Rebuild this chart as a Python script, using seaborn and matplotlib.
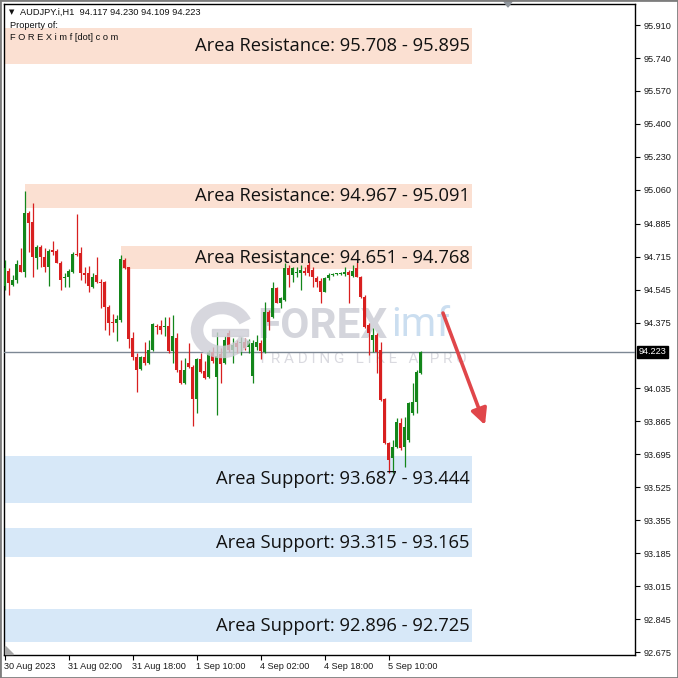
import numpy as np
import pandas as pd
import matplotlib
matplotlib.use("Agg")
import matplotlib.pyplot as plt
import seaborn as sns
from matplotlib.patches import Rectangle, Arc, Polygon

# ---------------- data ----------------
opens = [94.561, 94.643, 94.569, 94.595, 94.672, 94.638, 94.942, 94.896, 94.707, 94.767,
         94.712, 94.664, 94.750, 94.746, 94.681, 94.604, 94.609, 94.638, 94.729, 94.736,
         94.633, 94.629, 94.557, 94.621, 94.586, 94.586, 94.457, 94.380, 94.371, 94.389,
         94.698, 94.660, 94.294, 94.199, 94.134, 94.199, 94.165, 94.234, 94.358, 94.359,
         94.354, 94.359, 94.230, 94.294, 94.131, 94.062, 94.165, 94.148, 93.979, 94.187,
         94.127, 94.093, 94.225, 94.096, 94.213, 94.165, 94.323, 94.233, 94.268, 94.268,
         94.273, 94.251, 94.100, 94.251, 94.271, 94.225, 94.431, 94.405, 94.552, 94.478,
         94.491, 94.655, 94.620, 94.629, 94.629, 94.643, 94.672, 94.646, 94.603, 94.591,
         94.534, 94.603, 94.622, 94.624, 94.626, 94.624, 94.638, 94.615, 94.655, 94.612,
         94.509, 94.362, 94.285, 94.310, 94.233, 93.979, 93.755, 93.674, 93.735, 93.855,
         93.735, 93.769, 93.907, 93.967, 94.117]
highs = [94.698, 94.655, 94.621, 94.698, 94.758, 95.056, 94.948, 94.994, 94.776, 94.776,
         94.758, 94.753, 94.798, 94.755, 94.690, 94.629, 94.650, 94.741, 94.936, 94.767,
         94.660, 94.667, 94.633, 94.715, 94.599, 94.590, 94.466, 94.420, 94.414, 94.724,
         94.707, 94.664, 94.328, 94.220, 94.203, 94.277, 94.285, 94.375, 94.368, 94.389,
         94.402, 94.406, 94.414, 94.320, 94.182, 94.191, 94.268, 94.157, 94.191, 94.217,
         94.174, 94.234, 94.251, 94.328, 94.242, 94.303, 94.337, 94.294, 94.285, 94.302,
         94.294, 94.288, 94.285, 94.311, 94.285, 94.483, 94.440, 94.586, 94.560, 94.509,
         94.681, 94.672, 94.663, 94.663, 94.672, 94.663, 94.694, 94.663, 94.615, 94.603,
         94.608, 94.629, 94.629, 94.629, 94.634, 94.663, 94.646, 94.672, 94.689, 94.615,
         94.517, 94.371, 94.345, 94.320, 94.276, 93.984, 93.760, 93.769, 93.881, 93.881,
         93.889, 93.967, 94.061, 94.130, 94.230]
lows = [94.543, 94.518, 94.561, 94.578, 94.638, 94.612, 94.741, 94.612, 94.650, 94.664,
        94.638, 94.564, 94.724, 94.681, 94.543, 94.557, 94.557, 94.629, 94.720, 94.595,
        94.578, 94.535, 94.552, 94.578, 94.449, 94.337, 94.311, 94.328, 94.282, 94.380,
        94.650, 94.242, 94.182, 94.019, 94.131, 94.157, 94.162, 94.230, 94.316, 94.316,
        94.306, 94.217, 94.165, 94.122, 94.058, 94.058, 94.139, 93.842, 93.907, 94.117,
        94.084, 94.088, 94.165, 93.898, 94.062, 94.162, 94.225, 94.165, 94.216, 94.208,
        94.233, 94.216, 94.061, 94.233, 94.185, 94.220, 94.337, 94.397, 94.474, 94.448,
        94.488, 94.560, 94.586, 94.612, 94.543, 94.620, 94.615, 94.560, 94.560, 94.474,
        94.531, 94.595, 94.615, 94.618, 94.620, 94.615, 94.474, 94.612, 94.612, 94.500,
        94.345, 94.208, 94.225, 94.113, 93.972, 93.748, 93.597, 93.597, 93.726, 93.717,
        93.631, 93.760, 93.898, 93.907, 94.109]
closes = [94.655, 94.578, 94.595, 94.678, 94.638, 94.942, 94.891, 94.712, 94.767, 94.712,
          94.664, 94.746, 94.741, 94.684, 94.595, 94.612, 94.643, 94.729, 94.722, 94.629,
          94.621, 94.561, 94.612, 94.586, 94.581, 94.454, 94.371, 94.371, 94.392, 94.703,
          94.655, 94.289, 94.199, 94.131, 94.199, 94.165, 94.234, 94.368, 94.354, 94.334,
          94.359, 94.230, 94.303, 94.131, 94.062, 94.131, 94.144, 93.979, 94.187, 94.122,
          94.088, 94.225, 94.174, 94.203, 94.162, 94.285, 94.234, 94.259, 94.251, 94.276,
          94.242, 94.282, 94.268, 94.276, 94.228, 94.431, 94.380, 94.552, 94.478, 94.500,
          94.655, 94.620, 94.655, 94.638, 94.646, 94.629, 94.629, 94.608, 94.586, 94.534,
          94.603, 94.620, 94.626, 94.626, 94.629, 94.638, 94.620, 94.643, 94.612, 94.509,
          94.354, 94.319, 94.310, 94.225, 93.975, 93.752, 93.666, 93.735, 93.864, 93.726,
          93.838, 93.958, 93.967, 94.122, 94.223]

price_ticks = [95.910, 95.740, 95.570, 95.400, 95.230, 95.060, 94.885, 94.715, 94.545,
               94.375, 94.035, 93.865, 93.695, 93.525, 93.355, 93.185, 93.015, 92.845, 92.675]
time_labels = ["30 Aug 2023", "31 Aug 02:00", "31 Aug 18:00", "1 Sep 10:00",
               "4 Sep 02:00", "4 Sep 18:00", "5 Sep 10:00"]
time_label_bars = [0, 16, 32, 48, 64, 80, 96]

resistance_low = [95.708, 94.967, 94.651]
resistance_high = [95.895, 95.091, 94.768]
support_high = [93.687, 93.315, 92.896]
support_low = [93.444, 93.165, 92.725]
last_price = 94.223
header = "AUDJPY.i,H1  94.117 94.230 94.109 94.223"

# ---------------- style ----------------
sns.set_theme(style="white")
plt.rcParams['font.family'] = ['Liberation Sans', 'DejaVu Sans']

W = H = 678
fig = plt.figure(figsize=(6.78, 6.78), dpi=100, facecolor="white")
fx = lambda x: x / W
fy = lambda y: 1 - y / H

ax_left, ax_right, ax_top, ax_bottom = 4, 635, 4, 655
ax = fig.add_axes([fx(ax_left), fy(ax_bottom), (ax_right - ax_left) / W, (ax_bottom - ax_top) / H])
ax.set_facecolor("white")

df = pd.DataFrame({"open": opens, "high": highs, "low": lows, "close": closes})
df["bar"] = np.arange(len(df))
df["up"] = df["close"] >= df["open"]

x0_px, bar_px = 4.5, 4.0
px_per_unit = 193.8
ax.set_xlim((ax_left - x0_px) / bar_px, (ax_right - x0_px) / bar_px)
ax.set_ylim(92.675 - (ax_bottom - 652) / px_per_unit, 92.675 + (652 - ax_top) / px_per_unit)

# zones
res_color = "#fbe0d2"
sup_color = "#d7e8f8"
zone_end = (472 - x0_px) / bar_px
res_start = [-2, 5.1, 29.1]
for s, lo, hi in zip(res_start, resistance_low, resistance_high):
    ax.add_patch(Rectangle((s, lo), zone_end - s, hi - lo, facecolor=res_color, edgecolor="none", zorder=1))
    ax.text(zone_end - 0.6, (lo + hi) / 2, f"Area Resistance: {lo:.3f} - {hi:.3f}",
            ha="right", va="center", fontsize=13.25, family=["Open Sans", "DejaVu Sans"],
            color="#111111", zorder=6)
for hi, lo in zip(support_high, support_low):
    ax.add_patch(Rectangle((-2, lo), zone_end + 2, hi - lo, facecolor=sup_color, edgecolor="none", zorder=1))
    ax.text(zone_end - 0.6, (lo + hi) / 2, f"Area Support: {hi:.3f} - {lo:.3f}",
            ha="right", va="center", fontsize=13.25, family=["Open Sans", "DejaVu Sans"],
            color="#111111", zorder=6)

# watermark
wm_gray = "#cdced6"
wm_blue = "#c6dbef"
fig.patches.append(Arc((fx(222), fy(330)), 50 / W, 44 / H, theta1=20, theta2=340,
                       lw=9, color=wm_gray, alpha=0.8, transform=fig.transFigure, zorder=2))
fig.patches.append(Rectangle((fx(212), fy(336)), 36 / W, 7 / H, color=wm_gray, alpha=0.8,
                             transform=fig.transFigure, zorder=2))
ax.text(fx(257), fy(326), "FOREX", transform=fig.transFigure, fontsize=30.5, fontweight="bold",
        family=["Roboto", "DejaVu Sans"], color=wm_gray, alpha=0.85, va="center", ha="left", zorder=2)
ax.text(fx(391), fy(324), "imf", transform=fig.transFigure, fontsize=29,
        family=["Roboto", "DejaVu Sans"], color=wm_blue, alpha=0.9, va="center", ha="left", zorder=2)
ax.text(fx(258), fy(359), "T R A D I N G   L I K E   A   P R O", transform=fig.transFigure, fontsize=11,
        family=["Roboto", "DejaVu Sans"], color="#dadae0", va="center", ha="left", zorder=2)

# last price line
ax.axhline(last_price, color="#7d8894", lw=1.0, zorder=3)

# candles
bull, bear = "#13861a", "#d81f1f"
colors = np.where(df["up"], bull, bear)
ax.vlines(df["bar"], df["low"], df["high"], colors=colors, lw=0.9, zorder=4)
body_bottom = np.minimum(df["open"], df["close"])
body_h = np.maximum((df["close"] - df["open"]).abs(), 0.005)
ax.bar(df["bar"], body_h, bottom=body_bottom, width=0.72, color=colors, linewidth=0, zorder=5)

# arrow
ax.annotate("", xy=((485 - x0_px) / bar_px, 93.846), xytext=((443 - x0_px) / bar_px, 94.424),
            arrowprops=dict(arrowstyle="-|>", lw=2.6, color="#e0464a", mutation_scale=24,
                            shrinkA=0, shrinkB=0), zorder=7)

# axes / ticks
ax.yaxis.tick_right()
ax.set_yticks(price_ticks)
ax.set_yticklabels([f"{v:.3f}" for v in price_ticks])
ax.set_xticks(time_label_bars)
ax.set_xticklabels(time_labels)
for lab in ax.get_xticklabels():
    lab.set_horizontalalignment("left")
ax.tick_params(axis="y", which="both", direction="out", length=3.5, width=0.8, color="black",
               labelsize=6.6, pad=2.5, labelcolor="#1a1a1a", right=True, left=False)
ax.tick_params(axis="x", which="both", direction="out", length=3.5, width=0.8, color="black",
               labelsize=6.6, pad=1.5, labelcolor="#1a1a1a", bottom=True)
for sp in ax.spines.values():
    sp.set_visible(True)
    sp.set_color("black")
    sp.set_linewidth(1.0)

ax.annotate(f"{last_price:.3f}", xy=(1, last_price), xycoords=("axes fraction", "data"),
            xytext=(2.4, 0), textcoords="offset points", ha="left", va="center",
            fontsize=6.6, color="white",
            bbox=dict(boxstyle="square,pad=0.2", fc="black", ec="black"), annotation_clip=False)

# header text
fig.text(fx(9), fy(12), "\u25bc", fontsize=5, va="center", ha="left", color="#111111",
         family=["DejaVu Sans"])
fig.text(fx(20), fy(12), header, fontsize=6.7, va="center", ha="left", color="#111111")
fig.text(fx(10), fy(25), "Property of:", fontsize=6.7, va="center", ha="left", color="#111111")
fig.text(fx(10), fy(37), "F O R E X i m f [dot] c o m", fontsize=6.7, va="center", ha="left",
         color="#111111", zorder=8)

# window decorations
fig.patches.append(Polygon([[fx(503), fy(0)], [fx(513), fy(0)], [fx(508), fy(7)]], closed=True,
                           color="#8f959c", transform=fig.transFigure))
fig.patches.append(Polygon([[fx(5), fy(646)], [fx(5), fy(654)], [fx(13), fy(654)]], closed=True,
                           color="#a7a7a7", transform=fig.transFigure))
fig.patches.append(Rectangle((0, 0), 1, 1, fill=False, ec="#7d7d7d", lw=2.0, transform=fig.transFigure))

fig.savefig("out.png", dpi=100, facecolor="white")
